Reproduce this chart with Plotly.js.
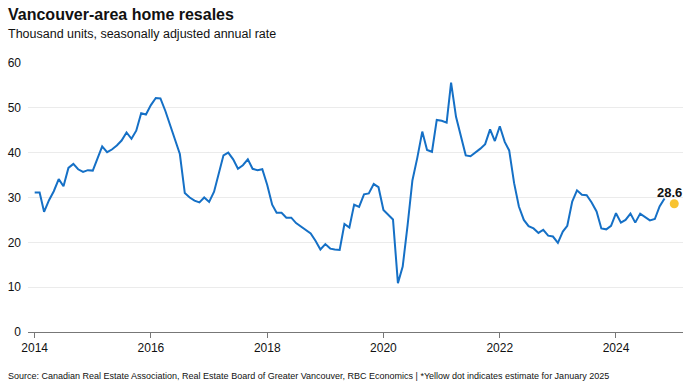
<!DOCTYPE html>
<html>
<head>
<meta charset="utf-8">
<script src="https://cdn.plot.ly/plotly-3.0.1.min.js"></script>
<style>
  html, body { margin: 0; padding: 0; background: #ffffff; }
  #chart { width: 688px; height: 388px; }
</style>
</head>
<body>
<div id="chart"></div>
<script>
// Monthly home resales, thousand units SAAR (Jan of each year onward)
const years = [2014, 2015, 2016, 2017, 2018, 2019, 2020, 2021, 2022, 2023, 2024];
const resales2014 = [31.1, 31.1, 26.8, 29.4, 31.4, 34.1, 32.5, 36.6, 37.5, 36.3, 35.7, 36.1];
const resales2015 = [36.0, 38.7, 41.4, 40.1, 40.7, 41.6, 42.7, 44.5, 43.1, 44.9, 48.8, 48.5];
const resales2016 = [50.6, 52.2, 52.1, 49.3, 46.3, 43.1, 39.7, 31.0, 30.0, 29.3, 28.9, 30.0];
const resales2017 = [29.0, 31.3, 35.0, 39.4, 40.0, 38.5, 36.4, 37.2, 38.5, 36.4, 36.1, 36.3];
const resales2018 = [32.8, 28.4, 26.6, 26.6, 25.5, 25.5, 24.3, 23.5, 22.7, 22.0, 20.3, 18.4];
const resales2019 = [19.6, 18.6, 18.4, 18.3, 24.1, 23.3, 28.4, 27.9, 30.7, 30.9, 33.0, 32.3];
const resales2020 = [27.2, 26.2, 25.1, 10.9, 14.6, 23.9, 33.8, 38.9, 44.7, 40.6, 40.2, 47.3];
const resales2021 = [47.1, 46.7, 55.6, 48.0, 43.5, 39.4, 39.2, 40.0, 40.9, 41.9, 45.2, 42.6];
const resales2022 = [45.9, 42.4, 40.5, 33.2, 28.0, 25.0, 23.6, 23.1, 22.1, 22.8, 21.5, 21.3];
const resales2023 = [19.9, 22.4, 23.7, 29.1, 31.6, 30.6, 30.5, 28.9, 26.9, 23.1, 22.9, 23.7];
const resales2024 = [26.5, 24.4, 25.0, 26.4, 24.4, 26.4, 25.6, 24.9, 25.2, 28.0, 29.8];
const yearlySeries = [resales2014, resales2015, resales2016, resales2017, resales2018, resales2019,
                      resales2020, resales2021, resales2022, resales2023, resales2024];

const estimateDate = '2025-01-01';
const estimateValue = 28.6;
const estimateLabel = '28.6';

const xTickYears = ['2014', '2016', '2018', '2020', '2022', '2024'];

// Build date / value arrays
const xDates = [];
const yVals = [];
yearlySeries.forEach((arr, i) => {
  arr.forEach((v, m) => {
    xDates.push(years[i] + '-' + String(m + 1).padStart(2, '0') + '-01');
    yVals.push(v);
  });
});

const FONT = '"Liberation Sans", Arial, sans-serif';

const traces = [
  {
    x: xDates, y: yVals, type: 'scatter', mode: 'lines',
    line: { color: '#1570c6', width: 2 },
    hoverinfo: 'skip', showlegend: false
  },
  {
    x: [estimateDate], y: [estimateValue], type: 'scatter', mode: 'markers',
    marker: { color: '#f8c331', size: 9 },
    hoverinfo: 'skip', showlegend: false, cliponaxis: false
  }
];

const L = 28, R = 5, T = 63, B = 56;
const plotH = 388 - T - B;
function py(px) { return (388 - B - px) / plotH; }
const plotW = 688 - L - R;
function pxX(px) { return (px - L) / plotW; }

const layout = {
  width: 688, height: 388,
  margin: { l: L, r: R, t: T, b: B, pad: 0 },
  paper_bgcolor: '#ffffff', plot_bgcolor: '#ffffff',
  font: { family: FONT, color: '#111111', size: 12 },
  showlegend: false,
  xaxis: {
    type: 'date',
    range: ['2013-11-20', '2025-02-25'],
    tickvals: xTickYears.map(y => y + '-01-01'),
    ticktext: xTickYears,
    showgrid: false, zeroline: false,
    showline: true, linecolor: '#777777', linewidth: 1,
    ticks: 'outside', ticklen: 5, tickcolor: '#777777', tickwidth: 1,
    tickfont: { family: FONT, size: 12, color: '#111111' },
    fixedrange: true
  },
  yaxis: {
    range: [0, 60],
    tickvals: [0, 10, 20, 30, 40, 50, 60],
    showgrid: true, gridcolor: '#ebebeb', gridwidth: 1,
    zeroline: false, showline: false, ticks: '',
    tickfont: { family: FONT, size: 12, color: '#111111' },
    ticklabelstandoff: 6,
    fixedrange: true
  },
  annotations: [
    {
      text: '<b>Vancouver-area home resales</b>', xref: 'paper', yref: 'paper',
      x: pxX(6), y: py(14.5), xanchor: 'left', yanchor: 'middle', showarrow: false,
      font: { family: FONT, size: 16, color: '#111111' }
    },
    {
      text: 'Thousand units, seasonally adjusted annual rate', xref: 'paper', yref: 'paper',
      x: pxX(6), y: py(34), xanchor: 'left', yanchor: 'middle', showarrow: false,
      font: { family: FONT, size: 12.5, color: '#111111' }
    },
    {
      text: 'Source: Canadian Real Estate Association, Real Estate Board of Greater Vancouver, RBC Economics | *Yellow dot indicates estimate for January 2025',
      xref: 'paper', yref: 'paper',
      x: pxX(6), y: py(376), xanchor: 'left', yanchor: 'middle', showarrow: false,
      font: { family: FONT, size: 9, color: '#111111' }
    },
    {
      text: '<b>' + estimateLabel + '</b>', x: estimateDate, y: estimateValue,
      xref: 'x', yref: 'y', showarrow: false, xshift: -5, yshift: 11,
      font: { family: FONT, size: 13, color: '#111111' }
    }
  ]
};

Plotly.newPlot('chart', traces, layout, { staticPlot: true, displayModeBar: false });
</script>
</body>
</html>
